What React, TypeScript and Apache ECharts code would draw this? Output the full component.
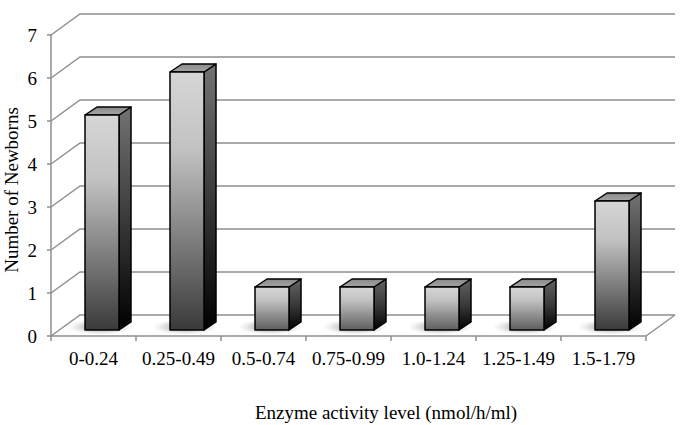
import React, { useEffect, useRef } from "react";
import * as echarts from "echarts";

const categories = ["0-0.24", "0.25-0.49", "0.5-0.74", "0.75-0.99", "1.0-1.24", "1.25-1.49", "1.5-1.79"];
const counts = [5, 6, 1, 1, 1, 1, 3];
const wallLevels = [0, 1, 2, 3, 4, 5, 6, 7];

const DEPTH_X = 29;
const DEPTH_Y = -21;
const GRID_COLOR = "#8f8f8f";
const FONT = "'Liberation Serif', 'Times New Roman', serif";
const FS = 19;

export default function App() {
  const ref = useRef<HTMLDivElement>(null);

  useEffect(() => {
    if (!ref.current) return;
    const chart = echarts.init(ref.current, null, { renderer: "svg" });

    const option: any = {
      animation: false,
      backgroundColor: "#ffffff",
      grid: { left: 51, right: 40, top: 35, bottom: 89 },
      xAxis: {
        type: "category",
        data: categories,
        boundaryGap: true,
        axisLine: { show: true, lineStyle: { color: GRID_COLOR, width: 1.5 } },
        axisTick: { show: true, length: 5, interval: 0, lineStyle: { color: GRID_COLOR, width: 1.5 } },
        axisLabel: { interval: 0, margin: 13, fontFamily: FONT, fontSize: FS, color: "#000" },
        splitLine: { show: false },
      },
      yAxis: {
        type: "value",
        min: 0,
        max: 7,
        interval: 1,
        axisLine: { show: true, lineStyle: { color: GRID_COLOR, width: 1.5 } },
        axisTick: { show: true, length: 4, lineStyle: { color: GRID_COLOR, width: 1.5 } },
        axisLabel: { margin: 14, fontFamily: FONT, fontSize: FS, color: "#000" },
        splitLine: { show: false },
      },
      graphic: [
        {
          type: "text",
          x: 386,
          y: 412,
          style: {
            text: "Enzyme activity level (nmol/h/ml)",
            font: `${FS}px ${FONT}`,
            fill: "#000",
            align: "center",
            verticalAlign: "middle",
          },
        },
        {
          type: "text",
          x: 11,
          y: 190,
          rotation: Math.PI / 2,
          style: {
            text: "Number of Newborns",
            font: `${FS}px ${FONT}`,
            fill: "#000",
            align: "center",
            verticalAlign: "middle",
          },
        },
      ],
      series: [
        {
          type: "custom",
          name: "wall",
          z: 1,
          silent: true,
          data: wallLevels.map((v) => [0, v]),
          renderItem: (params: any, api: any) => {
            const cs = params.coordSys;
            const v = api.value(1);
            const y = api.coord([0, v])[1];
            const x0 = cs.x;
            const x1 = cs.x + cs.width;
            const children: any[] = [
              {
                type: "polyline",
                shape: {
                  points: [
                    [x0, y],
                    [x0 + DEPTH_X, y + DEPTH_Y],
                    [x1 + DEPTH_X, y + DEPTH_Y],
                  ],
                },
                style: { stroke: GRID_COLOR, lineWidth: 1.5, fill: null },
              },
            ];
            if (v === 0) {
              children.push({
                type: "line",
                shape: { x1: x1, y1: y, x2: x1 + DEPTH_X, y2: y + DEPTH_Y },
                style: { stroke: GRID_COLOR, lineWidth: 1.5 },
              });
            }
            return { type: "group", children };
          },
        },
        {
          type: "custom",
          name: "Newborns",
          z: 3,
          data: counts.map((v, i) => [i, v]),
          renderItem: (params: any, api: any) => {
            const i = api.value(0);
            const v = api.value(1);
            const top = api.coord([i, v]);
            const base = api.coord([i, 0]);
            const band = api.size([1, 0])[0];
            const w = band * 0.4;
            const offX = 8.5;
            const offY = -6;
            const dX = 12;
            const dY = -8;
            const x = top[0] + offX - w / 2;
            const yt = top[1] + offY;
            const yb = base[1] + offY;
            const h = yb - yt;
            const k = Math.min(1, h / 120);
            const lerp = (a: number, b: number, t: number) => Math.round(a + (b - a) * t);
            const bottomGray = lerp(115, 58, k);
            const bottom = `rgb(${bottomGray},${bottomGray},${bottomGray})`;
            const sideTopGray = lerp(90, 115, k);
            const sideTop = `rgb(${sideTopGray},${sideTopGray},${sideTopGray})`;
            return {
              type: "group",
              children: [
                {
                  type: "ellipse",
                  shape: { cx: x + w / 2 - 2, cy: yb - 3, rx: w / 2 + 16, ry: 8 },
                  style: {
                    fill: new echarts.graphic.RadialGradient(0.5, 0.5, 0.5, [
                      { offset: 0, color: "rgba(110,110,110,0.75)" },
                      { offset: 0.6, color: "rgba(150,150,150,0.35)" },
                      { offset: 1, color: "rgba(200,200,200,0)" },
                    ]),
                  },
                },
                {
                  type: "polygon",
                  shape: {
                    points: [
                      [x + w, yt],
                      [x + w + dX, yt + dY],
                      [x + w + dX, yb + dY],
                      [x + w, yb],
                    ],
                  },
                  style: {
                    fill: new echarts.graphic.LinearGradient(0, 0, 0, 1, [
                      { offset: 0, color: sideTop },
                      { offset: 0.5, color: "#3a3a3a" },
                      { offset: 1, color: "#000000" },
                    ]),
                    stroke: "#000",
                    lineWidth: 1.5,
                    lineJoin: "round",
                  },
                },
                {
                  type: "polygon",
                  shape: {
                    points: [
                      [x, yt],
                      [x + w, yt],
                      [x + w + dX, yt + dY],
                      [x + dX, yt + dY],
                    ],
                  },
                  style: {
                    fill: new echarts.graphic.LinearGradient(0, 1, 0, 0, [
                      { offset: 0, color: "#a4a4a4" },
                      { offset: 1, color: "#8a8a8a" },
                    ]),
                    stroke: "#000",
                    lineWidth: 1.5,
                    lineJoin: "round",
                  },
                },
                {
                  type: "rect",
                  shape: { x: x, y: yt, width: w, height: h },
                  style: {
                    fill: new echarts.graphic.LinearGradient(0, 0, 0, 1, [
                      { offset: 0, color: "#d6d6d6" },
                      { offset: 0.3, color: "#c2c2c2" },
                      { offset: 1, color: bottom },
                    ]),
                    stroke: "#000",
                    lineWidth: 1.5,
                    lineJoin: "round",
                  },
                },
              ],
            };
          },
        },
      ],
    };

    chart.setOption(option);
    return () => {
      chart.dispose();
    };
  }, []);

  return (
    <div
      ref={ref}
      style={{ position: "fixed", left: 0, top: 0, width: 686, height: 425, background: "#fff" }}
    />
  );
}
